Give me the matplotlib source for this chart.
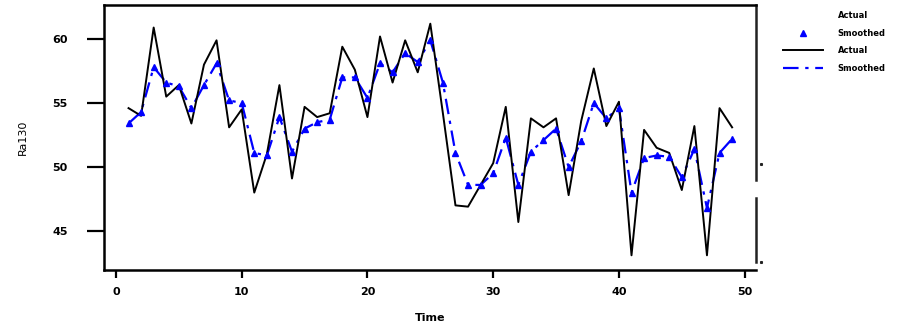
import numpy as np
import matplotlib.pyplot as plt
from matplotlib.lines import Line2D

# Time index and series
time = list(range(1, 50))
actual = [54.6, 54.0, 60.9, 55.5, 56.4, 53.4, 58.0, 59.9, 53.1, 54.5,
          48.0, 51.0, 56.4, 49.1, 54.7, 53.9, 54.2, 59.4, 57.6, 53.9,
          60.2, 56.6, 59.9, 57.4, 61.2, 54.2, 47.0, 46.9, 48.6, 50.3,
          54.7, 45.7, 53.8, 53.1, 53.8, 47.8, 53.6, 57.7, 53.2, 55.1,
          43.1, 52.9, 51.5, 51.1, 48.2, 53.2, 43.1, 54.6, 53.1]
smoothed = [53.4, 54.3, 57.8, 56.6, 56.3, 54.6, 56.4, 58.1, 55.2, 55.0,
            51.1, 50.9, 53.9, 51.2, 53.0, 53.5, 53.7, 57.0, 57.0, 55.4,
            58.1, 57.4, 58.9, 58.2, 59.9, 56.6, 51.1, 48.6, 48.6, 49.5,
            52.3, 48.6, 51.2, 52.1, 53.0, 50.0, 52.0, 55.0, 53.8, 54.6,
            48.0, 50.7, 50.9, 50.8, 49.2, 51.4, 46.8, 51.1, 52.2]
xticks = [0, 10, 20, 30, 40, 50]
yticks = [45, 50, 55, 60]

fig = plt.figure(figsize=(9.14, 3.29), dpi=100)
ax = fig.add_axes([104 / 914, 1 - 270 / 329, (756 - 104) / 914, 265 / 329])

dash_dot = (7, 3, 1.5, 3)
# Actual series: plain black line
ax.plot(time, actual, color='black', lw=1.4, zorder=3)
# Smoothed series: blue dash-dot line with triangles
ax.plot(time, smoothed, color='blue', lw=1.6, dashes=dash_dot, zorder=2)
ax.plot(time, smoothed, ls='none', marker='^', ms=4.5, color='blue', zorder=4)

ax.set_xlim(-0.95, 50.9)
ax.set_ylim(41.95, 62.66)
ax.set_xticks(xticks)
ax.set_yticks(yticks)
ax.tick_params(axis='x', direction='out', length=6, width=1.6, labelsize=8, pad=6)
ax.tick_params(axis='y', direction='out', length=12, width=1.6, labelsize=8, pad=14)
for lab in ax.get_xticklabels() + ax.get_yticklabels():
    lab.set_fontweight('bold')
for side in ['left', 'top', 'bottom']:
    ax.spines[side].set_linewidth(1.8)
ax.spines['right'].set_visible(False)
# broken right frame as in the reference
ax.plot([1, 1], [1, 0.34], transform=ax.transAxes, color='#222222', lw=1.8, clip_on=False)
ax.plot([1, 1], [0.27, 0.03], transform=ax.transAxes, color='#222222', lw=1.8, clip_on=False)
ax.plot([1.007], [0.40], transform=ax.transAxes, marker='s', ms=1.2, color='#222222', clip_on=False)
ax.plot([1.007], [0.03], transform=ax.transAxes, marker='s', ms=1.2, color='#222222', clip_on=False)

ax.set_xlabel('Time', fontsize=8, fontweight='bold', labelpad=12)
ax.set_ylabel('Ra130', fontsize=8, labelpad=18)

handles = [
    Line2D([], [], ls='none', marker='.', ms=0, color='black'),
    Line2D([], [], ls='none', marker='^', ms=4.5, color='blue'),
    Line2D([], [], color='black', lw=1.4),
    Line2D([], [], color='blue', lw=1.6, dashes=dash_dot),
]
labels = ['Actual', 'Smoothed', 'Actual', 'Smoothed']
fig.legend(handles, labels, loc='upper left', bbox_to_anchor=(0.848, 0.99),
           frameon=False, handlelength=4.8, handletextpad=1.8, labelspacing=1.05,
           prop={'size': 6, 'weight': 'bold'})

fig.savefig('out.png', dpi=100)
